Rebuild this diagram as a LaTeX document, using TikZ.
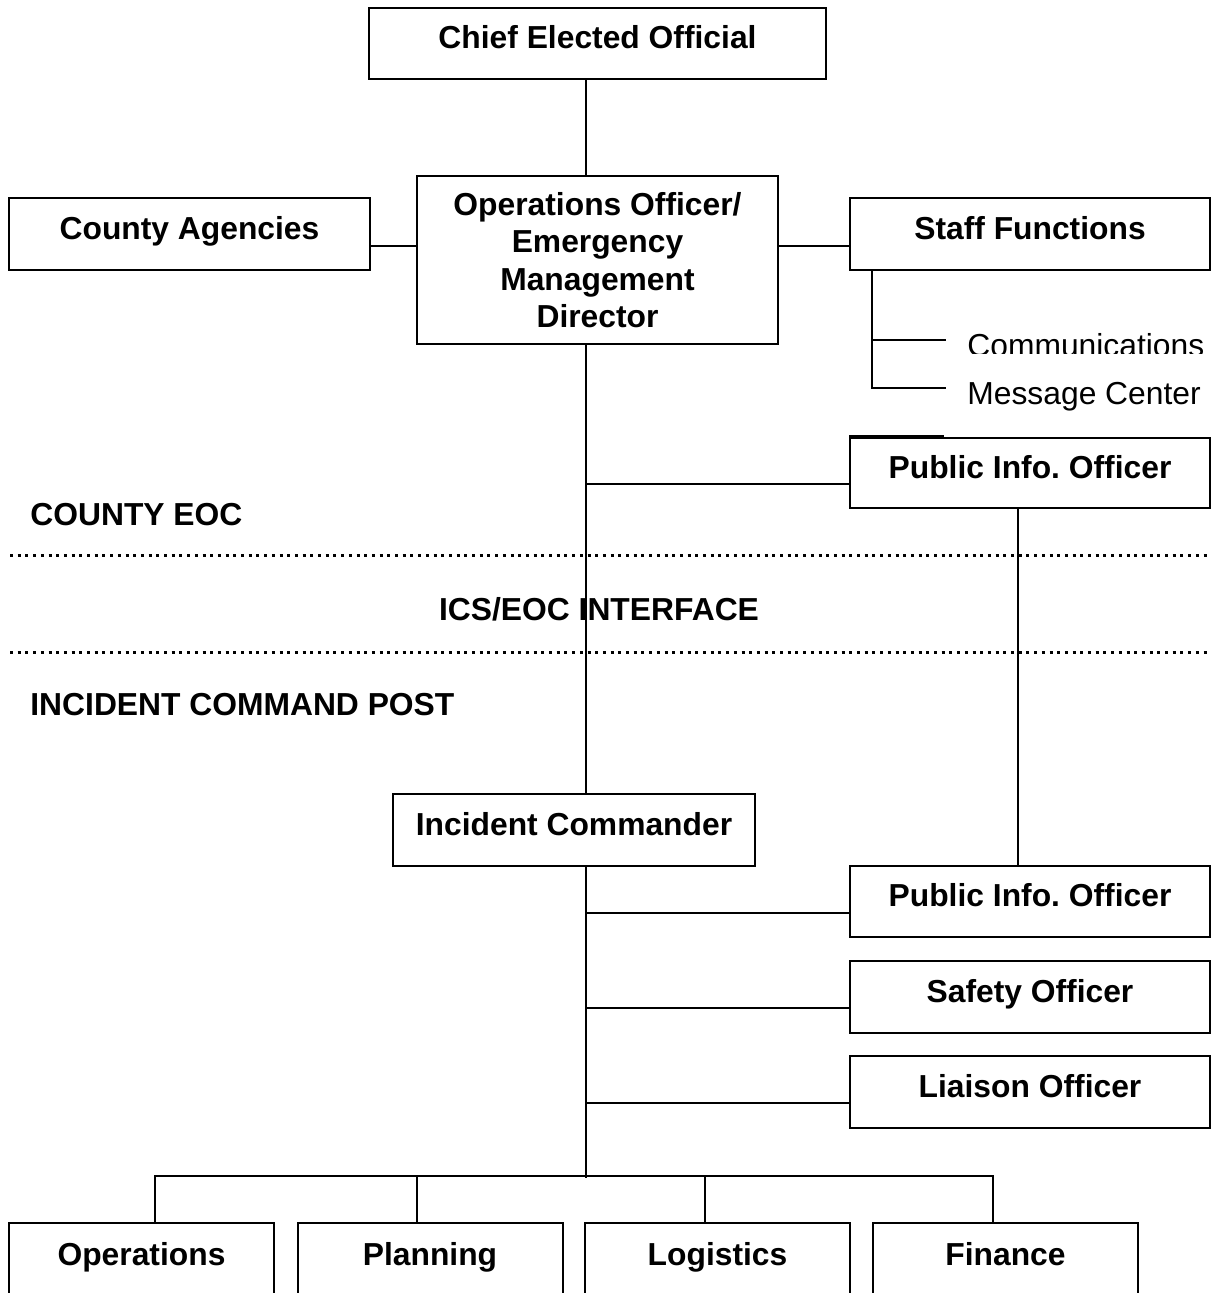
\documentclass[tikz,border=0pt]{standalone}
\usepackage{fontspec}
\setmainfont{Liberation Sans}

\begin{document}
\begin{tikzpicture}[x=0.5pt, y=-0.5pt,
            box/.style={draw, line width=1pt, fill=white, inner sep=0pt, minimum width=180pt, minimum height=36pt, font=\fontsize{15.9pt}{18.7pt}\selectfont\bfseries, text height=11.4pt, text depth=6pt},
            big/.style={draw, line width=1pt, fill=white, inner sep=0pt, minimum width=180.5pt, minimum height=84pt, align=center, font=\fontsize{15.9pt}{18.7pt}\selectfont\bfseries},
            low/.style={box, anchor=north, minimum width=132.5pt, minimum height=50pt, text depth=19pt},
            lbl/.style={inner sep=0pt, font=\fontsize{15.9pt}{18.7pt}\selectfont\bfseries},
            item/.style={inner sep=0pt, font=\fontsize{15.9pt}{18.7pt}\selectfont},
            ln/.style={line width=1pt},
            sep/.style={line width=1.5pt, dash pattern=on 1.5pt off 2.35pt}
        ]
            \useasboundingbox (0,0) rectangle (1212,1293);
            \clip (0,0) rectangle (1212,1293);

            \node[box, minimum width=228.5pt, minimum height=35.5pt] (chief) at (597.5,43.5) {Chief Elected Official};
            \node[big] (ops) at (597.5,260) {Operations Officer/\\Emergency\\Management\\Director};
            \node[box, minimum width=180.5pt] (cty) at (189.5,234) {County Agencies};
            \node[box] (staff) at (1030,234) {Staff Functions};
            \node[box, minimum height=35pt] (pio1) at (1030,473) {Public Info.\ Officer};

            \node[box, minimum width=181pt] (ic) at (574,830) {Incident Commander};
            \node[box, minimum height=35.5pt] (pio2) at (1030,901.5) {Public Info.\ Officer};
            \node[box] (safe) at (1030,997) {Safety Officer};
            \node[box] (liai) at (1030,1092) {Liaison Officer};

            \node[low] (opsb) at (141.5,1222) {Operations};
            \node[low] (plan) at (430,1222) {Planning};
            \node[low] (logi) at (717.5,1222) {Logistics};
            \node[low] (fin) at (1005.5,1222) {Finance};

            \node[item, anchor=base west] (msg) at (967,405) {Message Center};
            \begin{scope}
                \clip (940,300) rectangle (1212,354);
                \node[item, anchor=base west] (comm) at (967,356.5) {Communications};
            \end{scope}

            \node[lbl, anchor=base west] (ceoc) at (30,525) {COUNTY EOC};
            \node[lbl, anchor=base] (intf) at (599,620) {ICS/EOC INTERFACE};
            \node[lbl, anchor=base west] (icp) at (30,715) {INCIDENT COMMAND POST};

            \draw[sep] (10,555) -- (1207,555);
            \draw[sep] (10,652) -- (1207,652);

            \coordinate (spine) at (586,0);
            \coordinate (bus) at (0,1176);
            \coordinate (c1) at (946,340);
            \coordinate (c2) at (946,388);

            \draw[ln] (chief.south -| spine) -- (ops.north -| spine);
            \draw[ln] ([yshift=-6pt]cty.east) -- ([yshift=-6pt]cty.east -| ops.west);
            \draw[ln] ([yshift=-6pt]staff.west) -- ([yshift=-6pt]staff.west -| ops.east);
            \draw[ln] ([xshift=11.5pt]staff.south west) |- (c2);
            \draw[ln] ([xshift=11.5pt]staff.south west |- c1) -- (c1);
            \draw[ln] ([yshift=0.5pt]pio1.north west) -- ++(95,0);

            \draw[ln] (ops.south -| spine) -- (ic.north -| spine);
            \draw[ln] ([yshift=-5.5pt]pio1.west) -- ([yshift=-5.5pt]pio1.west -| spine);
            \draw[ln] ([xshift=-6pt]pio1.south) -- ([xshift=-6pt]pio2.north);

            \draw[ln] (ic.south -| spine) -- ([yshift=-1pt]bus -| spine);
            \foreach \n in {pio2,safe,liai}
                \draw[ln] ([yshift=-5.5pt]\n.west) -- ([yshift=-5.5pt]\n.west -| spine);

            \draw[ln] ([xshift=6.75pt]opsb.north) |- ([xshift=-6.5pt]fin.north |- bus) -- ([xshift=-6.5pt]fin.north);
            \foreach \n in {plan,logi}
                \draw[ln] ([xshift=-6.5pt]\n.north) -- ([xshift=-6.5pt]\n.north |- bus);
        \end{tikzpicture}
\end{document}
